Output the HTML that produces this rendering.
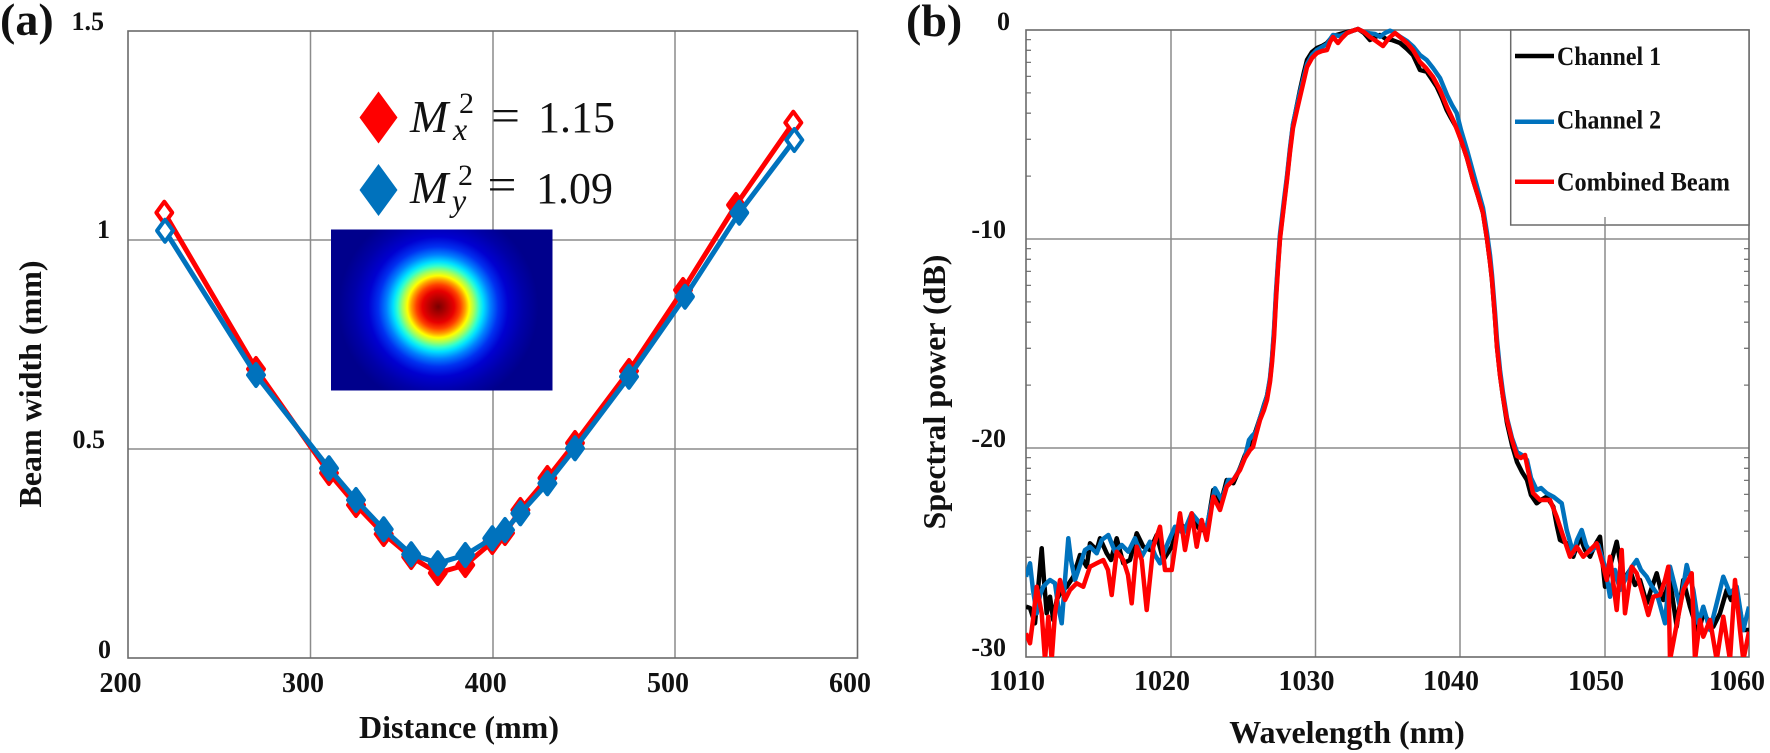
<!DOCTYPE html>
<html><head><meta charset="utf-8"><style>
html,body{margin:0;padding:0;background:#fff;}
svg{display:block;}
text{font-family:"Liberation Serif",serif;}
</style></head><body>
<svg width="1770" height="753" viewBox="0 0 1770 753" xmlns="http://www.w3.org/2000/svg">
<defs>
<clipPath id="cb"><rect x="1026" y="24" width="723" height="633"/></clipPath>
<clipPath id="ca"><rect x="128" y="31" width="729.5" height="627"/></clipPath>
<clipPath id="ci"><rect x="331" y="229.5" width="221.5" height="161"/></clipPath>
<radialGradient id="hm" cx="438.3" cy="306.7" r="100" gradientUnits="userSpaceOnUse">
<stop offset="0" stop-color="#7a0000"/>
<stop offset="0.08" stop-color="#b00000"/>
<stop offset="0.16" stop-color="#e80000"/>
<stop offset="0.22" stop-color="#ff4000"/>
<stop offset="0.27" stop-color="#ffa000"/>
<stop offset="0.31" stop-color="#ffff00"/>
<stop offset="0.36" stop-color="#a0ff60"/>
<stop offset="0.41" stop-color="#30ffd0"/>
<stop offset="0.45" stop-color="#00e0ff"/>
<stop offset="0.52" stop-color="#0080ff"/>
<stop offset="0.60" stop-color="#0030f0"/>
<stop offset="0.70" stop-color="#0000d0"/>
<stop offset="0.85" stop-color="#0000a8"/>
<stop offset="1" stop-color="#00008c"/>
</radialGradient>
</defs>
<rect width="1770" height="753" fill="#fff"/>

<!-- ============ PANEL (a) ============ -->
<g stroke="#8c8c8c" stroke-width="1.5" fill="none">
<line x1="310.5" y1="31" x2="310.5" y2="658"/>
<line x1="493" y1="31" x2="493" y2="658"/>
<line x1="675" y1="31" x2="675" y2="658"/>
<line x1="128" y1="449" x2="857.5" y2="449"/>
<line x1="128" y1="240" x2="857.5" y2="240"/>
</g>
<rect x="128" y="31" width="729.5" height="627" fill="none" stroke="#6a6a6a" stroke-width="1.6"/>

<!-- inset beam profile -->
<g clip-path="url(#ci)">
<rect x="331" y="229.5" width="221.5" height="161" fill="#00008c"/>
<circle cx="438.3" cy="306.7" r="100" fill="url(#hm)"/>
</g>

<!-- M^2 annotation -->
<polygon points="378.5,91.5 397.5,117.5 378.5,143.5 359.5,117.5" fill="#ff0000"/>
<polygon points="378.5,164 397.5,190 378.5,216 359.5,190" fill="#0072bd"/>
<text x="410" y="132" font-size="46" font-style="italic" fill="#111">M</text>
<text x="459" y="113" font-size="30" fill="#111">2</text>
<text x="453" y="140" font-size="32" font-style="italic" fill="#111">x</text>
<text x="491" y="131" font-size="46" fill="#111" textLength="29" lengthAdjust="spacingAndGlyphs">=</text>
<text x="538" y="132" font-size="44" fill="#111">1.15</text>
<text x="410" y="203" font-size="46" font-style="italic" fill="#111">M</text>
<text x="458" y="185" font-size="30" fill="#111">2</text>
<text x="452" y="211" font-size="32" font-style="italic" fill="#111">y</text>
<text x="487.5" y="200" font-size="46" fill="#111" textLength="29" lengthAdjust="spacingAndGlyphs">=</text>
<text x="536" y="203" font-size="44" fill="#111">1.09</text>

<g clip-path="url(#ca)">
<!-- red series -->
<polyline fill="none" stroke="#ff0000" stroke-width="5" stroke-linejoin="round" points="164.3,212.7 256,369 329,473 356,505 383.7,534 411.2,557 437.8,573 465.3,565 492.3,542 505,533 520.4,510 547.4,478 575,443 629,371 683,290 736,205 793.3,122.7"/>
<g fill="#ff0000" stroke="#ff0000" stroke-width="4" stroke-linejoin="round">
<polygon points="256,358 264,369 256,380 248,369"/>
<polygon points="329,462 337,473 329,484 321,473"/>
<polygon points="356,494 364,505 356,516 348,505"/>
<polygon points="383.7,523 391.7,534 383.7,545 375.7,534"/>
<polygon points="411.2,546 419.2,557 411.2,568 403.2,557"/>
<polygon points="437.8,562 445.8,573 437.8,584 429.8,573"/>
<polygon points="465.3,554 473.3,565 465.3,576 457.3,565"/>
<polygon points="492.3,531 500.3,542 492.3,553 484.3,542"/>
<polygon points="505,522 513,533 505,544 497,533"/>
<polygon points="520.4,499 528.4,510 520.4,521 512.4,510"/>
<polygon points="547.4,467 555.4,478 547.4,489 539.4,478"/>
<polygon points="575,432 583,443 575,454 567,443"/>
<polygon points="629,360 637,371 629,382 621,371"/>
<polygon points="683,279 691,290 683,301 675,290"/>
<polygon points="736,194 744,205 736,216 728,205"/>
</g>
<g fill="#fff" stroke="#ff0000" stroke-width="4" stroke-linejoin="round">
<polygon points="164.3,201.7 172.3,212.7 164.3,223.7 156.3,212.7"/>
<polygon points="793.3,111.7 801.3,122.7 793.3,133.7 785.3,122.7"/>
</g>
<!-- blue series -->
<polyline fill="none" stroke="#0072bd" stroke-width="5" stroke-linejoin="round" points="165,230.7 256,375 329,468.3 356,500 383.7,529.3 411.2,554.3 437.8,563.3 465.3,555 492.3,538.3 505,530 520.4,513.3 547.4,483.3 575,448.3 629,376.7 685,296.7 739.3,212.7 794.3,140"/>
<g fill="#0072bd" stroke="#0072bd" stroke-width="4" stroke-linejoin="round">
<polygon points="256,364 264,375 256,386 248,375"/>
<polygon points="329,457.3 337,468.3 329,479.3 321,468.3"/>
<polygon points="356,489 364,500 356,511 348,500"/>
<polygon points="383.7,518.3 391.7,529.3 383.7,540.3 375.7,529.3"/>
<polygon points="411.2,543.3 419.2,554.3 411.2,565.3 403.2,554.3"/>
<polygon points="437.8,552.3 445.8,563.3 437.8,574.3 429.8,563.3"/>
<polygon points="465.3,544 473.3,555 465.3,566 457.3,555"/>
<polygon points="492.3,527.3 500.3,538.3 492.3,549.3 484.3,538.3"/>
<polygon points="505,519 513,530 505,541 497,530"/>
<polygon points="520.4,502.3 528.4,513.3 520.4,524.3 512.4,513.3"/>
<polygon points="547.4,472.3 555.4,483.3 547.4,494.3 539.4,483.3"/>
<polygon points="575,437.3 583,448.3 575,459.3 567,448.3"/>
<polygon points="629,365.7 637,376.7 629,387.7 621,376.7"/>
<polygon points="685,285.7 693,296.7 685,307.7 677,296.7"/>
<polygon points="739.3,201.7 747.3,212.7 739.3,223.7 731.3,212.7"/>
</g>
<g fill="#fff" stroke="#0072bd" stroke-width="4" stroke-linejoin="round">
<polygon points="165,219.7 173,230.7 165,241.7 157,230.7"/>
<polygon points="794.3,129 802.3,140 794.3,151 786.3,140"/>
</g>
</g>

<!-- axis labels (a) -->
<g font-weight="bold" fill="#111">
<text x="0" y="35" font-size="46">(a)</text>
<g font-size="26" text-anchor="end">
<text x="104" y="30">1.5</text>
<text x="110" y="238">1</text>
<text x="105" y="448">0.5</text>
<text x="111" y="658">0</text>
</g>
<g font-size="28" text-anchor="middle">
<text x="120.5" y="692">200</text>
<text x="303" y="692">300</text>
<text x="485.7" y="692">400</text>
<text x="668" y="692">500</text>
<text x="850" y="692">600</text>
</g>
<text x="459" y="738" font-size="32" text-anchor="middle">Distance (mm)</text>
<text transform="translate(41,384) rotate(-90)" x="0" y="0" font-size="32" text-anchor="middle">Beam width (mm)</text>
</g>

<!-- ============ PANEL (b) ============ -->
<g stroke="#8c8c8c" stroke-width="1.5" fill="none">
<line x1="1171" y1="30" x2="1171" y2="657"/>
<line x1="1315.5" y1="30" x2="1315.5" y2="657"/>
<line x1="1460" y1="30" x2="1460" y2="657"/>
<line x1="1605" y1="30" x2="1605" y2="657"/>
<line x1="1026" y1="239" x2="1749" y2="239"/>
<line x1="1026" y1="448" x2="1749" y2="448"/>
</g>
<!-- minor ticks -->
<g stroke="#777" stroke-width="1.3">
<path d="M1026,594.1h5M1026,557.3h5M1026,531.2h5M1026,510.9h5M1026,494.4h5M1026,480.4h5M1026,468.3h5M1026,457.6h5
M1026,385.1h5M1026,348.3h5M1026,322.2h5M1026,301.9h5M1026,285.4h5M1026,271.4h5M1026,259.3h5M1026,248.6h5
M1026,176.1h5M1026,139.3h5M1026,113.2h5M1026,92.9h5M1026,76.4h5M1026,62.4h5M1026,50.3h5M1026,39.6h5
M1749,594.1h-5M1749,557.3h-5M1749,531.2h-5M1749,510.9h-5M1749,494.4h-5M1749,480.4h-5M1749,468.3h-5M1749,457.6h-5
M1749,385.1h-5M1749,348.3h-5M1749,322.2h-5M1749,301.9h-5M1749,285.4h-5M1749,271.4h-5M1749,259.3h-5M1749,248.6h-5"/>
</g>
<rect x="1026" y="30" width="723" height="627" fill="none" stroke="#6a6a6a" stroke-width="1.6"/>

<g clip-path="url(#cb)" fill="none" stroke-width="4.5" stroke-linejoin="round">
<!-- black: Channel 1 -->
<polyline stroke="#000" points="1026,606.7 1030,608 1035,623.3 1038,590 1041.7,548.3 1044,580 1046.7,613.3 1050,596.7 1053.3,620 1056.7,600 1060,593.3 1066.7,586.7 1073.3,576.7 1080,555 1086.7,566.7 1090,543.3 1096.7,550 1100,538.3 1106.7,553.3 1111,560 1116.7,538.3 1123.3,563.3 1130,560 1136.7,533.3 1143.3,546.7 1150,550 1156.7,535 1163.3,560 1171.7,546.7 1180,523.3 1186.7,530 1193.3,520 1200,530 1206.7,530 1213.3,490 1220,506.7 1226.7,480 1233.3,483.3 1240,468 1245,455 1250,446 1256,430 1260,418 1264,405 1267,396 1270,380 1272,360 1274,333 1276,296 1278,265 1280,237 1284,203 1287,178 1290,150 1293,125 1297,105 1300,90 1304,72 1307,60 1312,52 1317,48 1322,46 1327,43 1333,36 1340,34 1347,32 1352,31 1358,29 1364,33 1370,40 1375,37 1380,35 1386,39 1392,40 1400,43 1407,49 1413,55 1420,70 1426.7,71.7 1431,78 1436.7,86.7 1442,98 1446.7,110 1451,118 1456.7,128 1461,140 1467,158 1473,180 1478,196 1483,213 1487,239 1490,262 1492,280 1495,318 1497,347 1500,375 1503,397 1507,423 1512,445 1517,462 1522,472 1527,480 1531,495 1536.7,503.3 1541,500 1546.7,496.7 1553.3,506.7 1556.7,525 1560,540 1566.7,543.3 1573.3,556.7 1580,536.7 1585,550 1590,556.7 1595,545 1600,536.7 1605,586.7 1610,566.7 1616.7,541.7 1623.3,580 1630,570 1635,585 1640,580 1646.7,603.3 1651,590 1656.7,573.3 1663.3,600 1670,580 1676.7,626.7 1683.3,580 1690,606.7 1698.3,633.3 1703.3,613.3 1708,620 1713.3,626.7 1720,613.3 1726.7,590 1731,600 1736.7,590 1743.3,630 1749,630"/>
<!-- blue: Channel 2 -->
<polyline stroke="#0072bd" points="1026,576.7 1030,563.3 1033,590 1036.7,613.3 1040,595 1043.3,586.7 1046.7,583 1050,580 1055,583.3 1058,605 1061.7,623.3 1065,580 1068.3,538.3 1071,560 1075,580 1081.7,560 1085,550 1090,546.7 1096.7,553.3 1101.7,540 1108.3,535 1115,551.7 1121.7,545 1128.3,551.7 1135,538.3 1141.7,556.7 1150,541.7 1155,555 1160,563.3 1168.3,541.7 1175,526.7 1183.3,533.3 1191.7,513.3 1200,523.3 1206.7,526.7 1215,488.3 1221.7,500 1228.3,480 1233.3,480 1240,469 1245,457 1249,440 1252,436 1256,432 1260,418 1264,406 1267,396 1270,378 1272,358 1274,330 1276,292 1278,262 1280,234 1284,200 1287,176 1290,148 1293,124 1297,106 1300,92 1304,76 1307,64 1312,55 1317,50 1322,47 1327,44 1333,35 1340,36 1347,33 1352,31 1358,29 1364,32 1370,33.3 1375,34 1380,36.7 1385,33 1390,30.7 1395,33 1400,36.7 1407,41 1413.3,46.7 1420,55 1426.7,60 1433,68 1440,78 1447,95 1452,105 1456.7,113 1461,130 1467,150 1473,172 1478,190 1483,208 1487,233 1490,255 1492,275 1495,312 1497,340 1500,370 1503,393 1507,418 1512,438 1517,452 1522,455 1527,460 1531,478 1536.7,490 1541,488 1546.7,493.3 1553.3,496.7 1561.7,503.3 1566.7,530 1573.3,553.3 1577,540 1581.7,530 1586,545 1590,551.7 1598.3,545 1605,566.7 1610,596.7 1615,570 1620,590 1626.7,576.7 1631,568 1636.7,560 1641,570 1646.7,576.7 1651,585 1656.7,593.3 1660,605 1665,623.3 1670,566.7 1675,586.7 1680,606.7 1686.7,565 1693.3,590 1698.3,623.3 1703.3,606.7 1710,630 1716.7,603.3 1723.3,576.7 1730,593.3 1736.7,586.7 1743.3,630 1749,606.7"/>
<!-- red: Combined Beam -->
<polyline stroke="#ff0000" points="1026,633.3 1030,643.3 1033,620 1036.7,586.7 1041.7,613.3 1045,660 1048.3,616.7 1051.7,660 1055,613.3 1060,580 1065,600 1070,590 1076.7,583.3 1083.3,586.7 1090,566.7 1096.7,563.3 1103.3,560 1108,570 1111.7,595 1116.7,551.7 1123.3,560 1128,575 1131.7,603.3 1136.7,546.7 1141.7,560 1146.7,610 1153.3,546.7 1160,526.7 1165,570 1171.7,570 1180,513.3 1185,550 1191.7,513.3 1196.7,546.7 1201.7,520 1206.7,540 1213.3,496.7 1220,510 1226.7,486.7 1233.3,480 1240,470 1245,458 1250,450 1253,447 1256,435 1260,420 1264,410 1267,400 1270,382 1272,363 1274,338 1276,300 1278,268 1280,239 1284,205 1287,180 1290,152 1293,128 1297,110 1300,97 1304,80 1307,67 1312,58 1317,53 1322,51 1327,50 1330,42 1333,37 1338,43 1342,38 1347,33 1352,31 1358,29 1364,32 1370,37 1376,41 1383,46 1389,38 1395,33 1400,37 1407,43 1413,50 1420,62 1426,68 1433,77 1440,90 1447,107 1454,122 1461,140 1467,158 1473,180 1478,196 1483,213 1487,239 1490,262 1492,280 1495,318 1497,347 1500,375 1503,397 1507,420 1512,440 1517,456 1521,458 1525,455 1528,470 1533,493 1540,500 1550,500 1556.7,516.7 1563.3,536.7 1570,556.7 1576.7,546.7 1583.3,556.7 1590,550 1596.7,543.3 1603.3,566.7 1606.7,580 1610,556.7 1616.7,610 1621.7,550 1625,613.3 1631.7,566.7 1636.7,573.3 1643.3,596.7 1648.3,615 1653.3,596.7 1660,595 1665,580 1668.3,566.7 1670,660 1675,633.3 1683.3,590 1691.7,573.3 1695,660 1700,620 1703.3,636.7 1710,620 1716.7,660 1723.3,616.7 1730,660 1735,580 1740,630 1743.3,660 1749,631.7"/>
</g>

<!-- legend -->
<rect x="1510.7" y="30" width="238.3" height="195" fill="#fff" stroke="#6a6a6a" stroke-width="1.5"/>
<line x1="1605" y1="217" x2="1605" y2="225" stroke="#8c8c8c" stroke-width="1.5"/>
<g stroke-width="4.5">
<line x1="1515" y1="56" x2="1554" y2="56" stroke="#000"/>
<line x1="1515" y1="121.7" x2="1554" y2="121.7" stroke="#0072bd"/>
<line x1="1515" y1="181.7" x2="1554" y2="181.7" stroke="#ff0000"/>
</g>
<g font-weight="bold" fill="#111" font-size="26">
<text x="1557" y="65" textLength="104" lengthAdjust="spacingAndGlyphs">Channel 1</text>
<text x="1557" y="128.5" textLength="104" lengthAdjust="spacingAndGlyphs">Channel 2</text>
<text x="1557" y="190.5" textLength="173" lengthAdjust="spacingAndGlyphs">Combined Beam</text>
</g>

<!-- axis labels (b) -->
<g font-weight="bold" fill="#111">
<text x="906" y="36" font-size="46">(b)</text>
<g font-size="26" text-anchor="end">
<text x="1010" y="30">0</text>
<text x="1006" y="238">-10</text>
<text x="1006" y="447">-20</text>
<text x="1006" y="656">-30</text>
</g>
<g font-size="28" text-anchor="middle">
<text x="1017" y="690">1010</text>
<text x="1162" y="690">1020</text>
<text x="1306.5" y="690">1030</text>
<text x="1451" y="690">1040</text>
<text x="1596" y="690">1050</text>
<text x="1737" y="690">1060</text>
</g>
<text x="1347" y="743" font-size="32" text-anchor="middle">Wavelength (nm)</text>
<text transform="translate(945,392) rotate(-90)" x="0" y="0" font-size="32" text-anchor="middle">Spectral power (dB)</text>
</g>
</svg>
</body></html>
